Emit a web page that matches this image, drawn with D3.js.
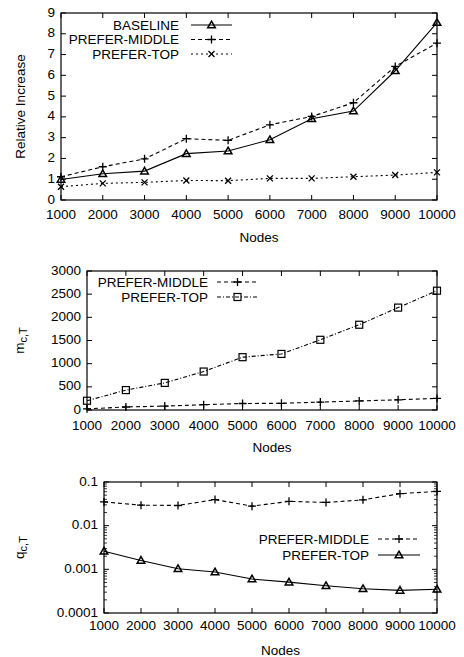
<!DOCTYPE html>
<html>
<head>
<meta charset="utf-8">
<script src="https://cdn.jsdelivr.net/npm/d3@7"></script>
<style>
  body { margin: 0; background: #fff; }
  text { font-family: "Liberation Sans", Arial, sans-serif; font-size: 13.5px; fill: #000; }
</style>
</head>
<body>
<div class="canvas"></div>
<script>
// values
const nodes = [1000, 2000, 3000, 4000, 5000, 6000, 7000, 8000, 9000, 10000];

const relBaseline = [0.99, 1.26, 1.39, 2.23, 2.36, 2.9, 3.91, 4.28, 6.22, 8.54];
const relMiddle = [1.12, 1.6, 1.98, 2.95, 2.87, 3.62, 4.02, 4.68, 6.43, 7.55];
const relTop = [0.64, 0.8, 0.85, 0.94, 0.93, 1.04, 1.04, 1.12, 1.2, 1.33];

const mMiddle = [25, 65, 85, 115, 140, 145, 170, 195, 220, 250];
const mTop = [200, 430, 585, 830, 1140, 1210, 1515, 1840, 2210, 2575];

const qMiddle = [0.035, 0.0295, 0.029, 0.0395, 0.028, 0.036, 0.034, 0.039, 0.054, 0.061];
const qTop = [0.0026, 0.0016, 0.00103, 0.00087, 0.0006, 0.00051, 0.00042, 0.00036, 0.00033, 0.00035];

const relTicks = [0, 1, 2, 3, 4, 5, 6, 7, 8, 9];
const mTicks = [0, 500, 1000, 1500, 2000, 2500, 3000];
const qTicks = [0.0001, 0.001, 0.01, 0.1];
const qTickLabels = ['0.0001', '0.001', '0.01', '0.1'];

const svg = d3.select('.canvas')
  .append('svg')
  .attr('width', 464)
  .attr('height', 657);

svg.append('rect').attr('width', 464).attr('height', 657).attr('fill', '#fff');

// marker shapes, drawn unfilled like gnuplot points
const marker = (g, type, x, y) => {
  if (type === 'tri') {
    g.append('path').attr('d', `M${x},${y - 3.8}L${x + 3.8},${y + 2.8}L${x - 3.8},${y + 2.8}Z`)
      .attr('fill', 'none').attr('stroke', '#000').attr('stroke-width', 1.5);
  } else if (type === 'plus') {
    g.append('path').attr('d', `M${x - 4},${y}H${x + 4}M${x},${y - 4}V${y + 4}`)
      .attr('stroke', '#000').attr('stroke-width', 1.3);
  } else if (type === 'cross') {
    g.append('path').attr('d', `M${x - 3},${y - 3}L${x + 3},${y + 3}M${x - 3},${y + 3}L${x + 3},${y - 3}`)
      .attr('stroke', '#000').attr('stroke-width', 1.3);
  } else if (type === 'square') {
    g.append('rect').attr('x', x - 3.5).attr('y', y - 3.5).attr('width', 7).attr('height', 7)
      .attr('fill', 'none').attr('stroke', '#000').attr('stroke-width', 1.2);
  }
};

const drawPanel = (p) => {
  const g = svg.append('g');
  const x = d3.scaleLinear().domain([1000, 10000]).range([p.left, p.right]);
  const y = p.y;
  const [top, bottom] = [y.range()[1], y.range()[0]];

  // frame
  g.append('rect')
    .attr('x', p.left).attr('y', top)
    .attr('width', p.right - p.left).attr('height', bottom - top)
    .attr('fill', 'none').attr('stroke', '#000').attr('stroke-width', 1.2);

  // x ticks, bottom and top
  nodes.forEach(n => {
    g.append('path').attr('d', `M${x(n)},${bottom}v-5M${x(n)},${top}v5`).attr('stroke', '#000');
    g.append('text').attr('x', x(n)).attr('y', p.xLabelY)
      .attr('text-anchor', 'middle').attr('dominant-baseline', 'central').text(n);
  });

  // y ticks, left and right
  p.yTicks.forEach((t, i) => {
    g.append('path').attr('d', `M${p.left},${y(t)}h5M${p.right},${y(t)}h-5`).attr('stroke', '#000');
    g.append('text').attr('x', p.left - 6).attr('y', y(t) - 1)
      .attr('text-anchor', 'end').attr('dominant-baseline', 'central')
      .text(p.yLabels ? p.yLabels[i] : t);
  });

  if (p.log) {
    for (let e = -4; e < -1; e++) {
      for (let k = 2; k < 10; k++) {
        const v = k * Math.pow(10, e);
        g.append('path').attr('d', `M${p.left},${y(v)}h3M${p.right},${y(v)}h-3`)
          .attr('stroke', '#000').attr('stroke-width', 0.8);
      }
    }
  }

  g.append('text').attr('x', (p.left + p.right) / 2 + 10).attr('y', p.nodesY)
    .attr('text-anchor', 'middle').attr('dominant-baseline', 'central').text('Nodes');

  const yl = g.append('text')
    .attr('transform', `translate(${p.yTitleX}, ${(top + bottom) / 2}) rotate(-90)`)
    .attr('text-anchor', 'middle').attr('dominant-baseline', 'central');
  if (p.sub) {
    yl.append('tspan').text(p.yTitle);
    yl.append('tspan').attr('dy', 4).style('font-size', '11px').text(p.sub);
  } else {
    yl.text(p.yTitle);
  }

  const line = d3.line().x((d, i) => x(nodes[i])).y(d => y(d));

  p.series.forEach((s, si) => {
    g.append('path').attr('d', line(s.values))
      .attr('fill', 'none').attr('stroke', '#000').attr('stroke-width', 1.1)
      .attr('stroke-dasharray', s.dash);
    s.values.forEach((v, i) => marker(g, s.mark, x(nodes[i]), y(v)));

    // legend entry
    const ly = p.legend.y + si * p.legend.step;
    g.append('text').attr('x', p.legend.textX).attr('y', ly)
      .attr('text-anchor', 'end').attr('dominant-baseline', 'central').text(s.name);
    g.append('path').attr('d', `M${p.legend.x0},${ly}H${p.legend.x1}`)
      .attr('stroke', '#000').attr('stroke-width', 1.1).attr('stroke-dasharray', s.dash);
    marker(g, s.mark, (p.legend.x0 + p.legend.x1) / 2, ly);
  });
};

drawPanel({
  left: 61, right: 437,
  y: d3.scaleLinear().domain([0, 9]).range([200, 13]),
  yTicks: relTicks,
  xLabelY: 214, nodesY: 237,
  yTitle: 'Relative Increase', yTitleX: 20,
  legend: { y: 25, step: 14.5, textX: 179, x0: 191, x1: 232 },
  series: [
    { name: 'BASELINE', values: relBaseline, mark: 'tri', dash: null },
    { name: 'PREFER-MIDDLE', values: relMiddle, mark: 'plus', dash: '4,3' },
    { name: 'PREFER-TOP', values: relTop, mark: 'cross', dash: '2,3' }
  ]
});

drawPanel({
  left: 87, right: 437,
  y: d3.scaleLinear().domain([0, 3000]).range([410, 271]),
  yTicks: mTicks,
  xLabelY: 425, nodesY: 447,
  yTitle: 'm', sub: 'c,T', yTitleX: 19,
  legend: { y: 282, step: 15, textX: 208, x0: 217, x1: 258 },
  series: [
    { name: 'PREFER-MIDDLE', values: mMiddle, mark: 'plus', dash: '4,3' },
    { name: 'PREFER-TOP', values: mTop, mark: 'square', dash: '4,2,1,2' }
  ]
});

drawPanel({
  left: 104, right: 437, log: true,
  y: d3.scaleLog().domain([0.0001, 0.1]).range([613, 482]),
  yTicks: qTicks, yLabels: qTickLabels,
  xLabelY: 625, nodesY: 650,
  yTitle: 'q', sub: 'c,T', yTitleX: 19,
  legend: { y: 539, step: 16, textX: 369, x0: 378, x1: 420 },
  series: [
    { name: 'PREFER-MIDDLE', values: qMiddle, mark: 'plus', dash: '4,3' },
    { name: 'PREFER-TOP', values: qTop, mark: 'tri', dash: null }
  ]
});
</script>
</body>
</html>
